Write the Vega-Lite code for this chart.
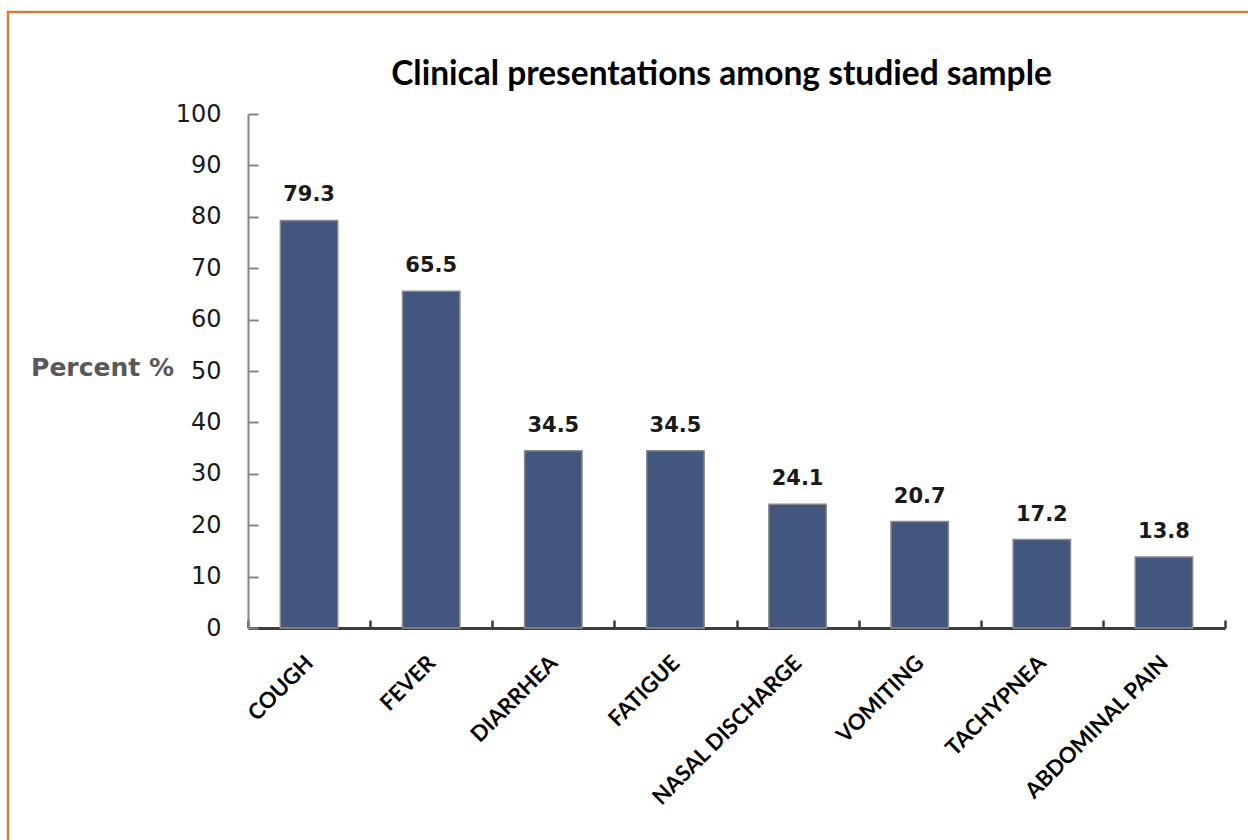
{
  "$schema": "https://vega.github.io/schema/vega-lite/v6.json",
  "width": 1243,
  "height": 831,
  "autosize": {"type": "none"},
  "padding": {"left": 8, "top": 12, "right": -3, "bottom": -3},
  "background": "white",
  "title": {
    "text": "Clinical presentations among studied sample",
    "font": "Lato",
    "fontSize": 33.5,
    "fontWeight": "bold",
    "color": "#000000",
    "anchor": "middle",
    "frame": "group",
    "offset": 0,
    "baseline": "alphabetic",
    "dx": 92,
    "dy": 106
  },
  "config": {"view": {"stroke": "#DA7A3A", "strokeWidth": 2.5}},
  "data": {
    "values": [
      {"symptom": "COUGH", "percent": 79.3},
      {"symptom": "FEVER", "percent": 65.5},
      {"symptom": "DIARRHEA", "percent": 34.5},
      {"symptom": "FATIGUE", "percent": 34.5},
      {"symptom": "NASAL DISCHARGE", "percent": 24.1},
      {"symptom": "VOMITING", "percent": 20.7},
      {"symptom": "TACHYPNEA", "percent": 17.2},
      {"symptom": "ABDOMINAL PAIN", "percent": 13.8}
    ]
  },
  "encoding": {
    "x": {
      "field": "symptom",
      "type": "nominal",
      "sort": null,
      "scale": {"range": [240, 1217], "paddingInner": 0, "paddingOuter": 0},
      "axis": {
        "title": null,
        "offset": -215,
        "domainColor": "#3d3d3d",
        "domainWidth": 3,
        "tickColor": "#3d3d3d",
        "tickWidth": 2.5,
        "tickSize": -8,
        "tickBand": "extent",
        "labelAngle": -45,
        "labelAlign": "right",
        "labelBaseline": "middle",
        "labelFont": "Lato",
        "labelFontSize": 22,
        "labelFontWeight": "bold",
        "labelColor": "#000000",
        "labelPadding": 39,
        "labelLimit": 0,
        "labelOverlap": false
      }
    },
    "y": {
      "field": "percent",
      "type": "quantitative",
      "scale": {"domain": [0, 100], "range": [616, 102], "nice": false, "zero": true},
      "axis": {
        "values": [0, 10, 20, 30, 40, 50, 60, 70, 80, 90, 100],
        "grid": false,
        "offset": -240,
        "domainColor": "#858585",
        "domainWidth": 2,
        "tickColor": "#858585",
        "tickWidth": 2,
        "tickSize": -10,
        "labelFont": "DejaVu Sans",
        "labelFontSize": 24,
        "labelColor": "#1a1a1a",
        "labelPadding": 37,
        "title": "Percent %",
        "titleAngle": 0,
        "titleX": -146,
        "titleY": 355,
        "titleAlign": "center",
        "titleBaseline": "middle",
        "titleFont": "DejaVu Sans",
        "titleFontSize": 25,
        "titleFontWeight": "bold",
        "titleColor": "#595959"
      }
    }
  },
  "layer": [
    {"mark": {"type": "bar", "width": {"band": 0.47}, "color": "#43567D", "stroke": "#8a8a8a", "strokeWidth": 1.5}},
    {
      "mark": {"type": "text", "baseline": "alphabetic", "dy": -19, "font": "DejaVu Sans", "fontSize": 21, "fontWeight": "bold", "color": "#1a1a1a"},
      "encoding": {"text": {"field": "percent", "type": "quantitative", "format": ".1f"}}
    }
  ]
}
